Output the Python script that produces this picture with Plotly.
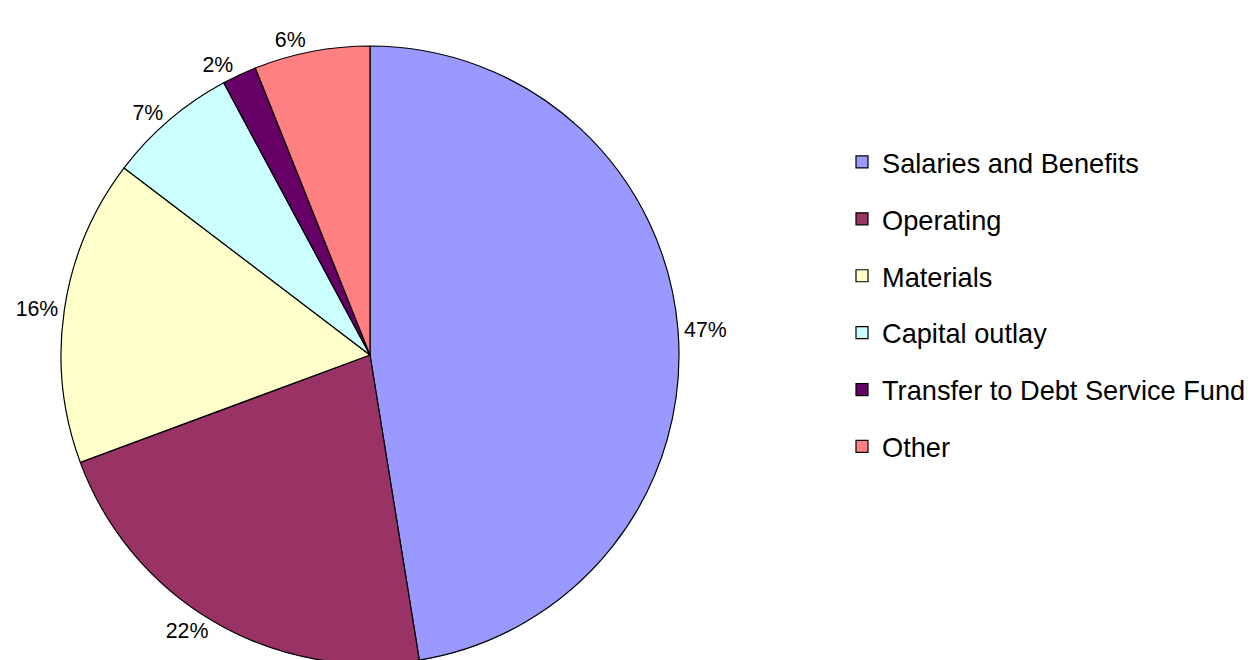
import plotly.graph_objects as go

categories = ["Salaries and Benefits", "Operating", "Materials", "Capital outlay",
              "Transfer to Debt Service Fund", "Other"]
values = [47.45, 21.9, 16.0, 6.8, 1.8, 6.05]
colors = ["#9999FF", "#993366", "#FFFFCC", "#CCFFFF", "#660066", "#FF8080"]

W, H = 1257, 660
FONT = "Liberation Sans, Arial, sans-serif"

# legend rows are spaced like the original (taller than plotly's default row)
legend_labels = ["<br><br><span style='font-size:27.2px'>%s</span><br>" % c for c in categories]

fig = go.Figure(go.Pie(
    labels=legend_labels,
    values=values,
    customdata=categories,
    sort=False,
    direction="clockwise",
    rotation=0,
    marker=dict(colors=colors, line=dict(color="black", width=1.2)),
    textposition="outside",
    texttemplate="%{percent:.0%}",
    textfont=dict(size=21.33, color="black", family=FONT),
    hovertemplate="%{customdata}: %{percent:.0%}<extra></extra>",
    domain=dict(x=[53 / W, 671 / W], y=[1 - 656 / H, 1 - 38 / H]),
))

fig.update_layout(
    width=W, height=H,
    margin=dict(l=0, r=0, t=0, b=0),
    paper_bgcolor="white",
    plot_bgcolor="white",
    font=dict(family=FONT, color="black"),
    showlegend=True,
    legend=dict(
        x=834 / W, y=1 - 120.5 / H, xanchor="left", yanchor="top",
        font=dict(size=10.365, family=FONT, color="black"),
        bgcolor="rgba(0,0,0,0)",
    ),
)

fig.write_html("out.html")
